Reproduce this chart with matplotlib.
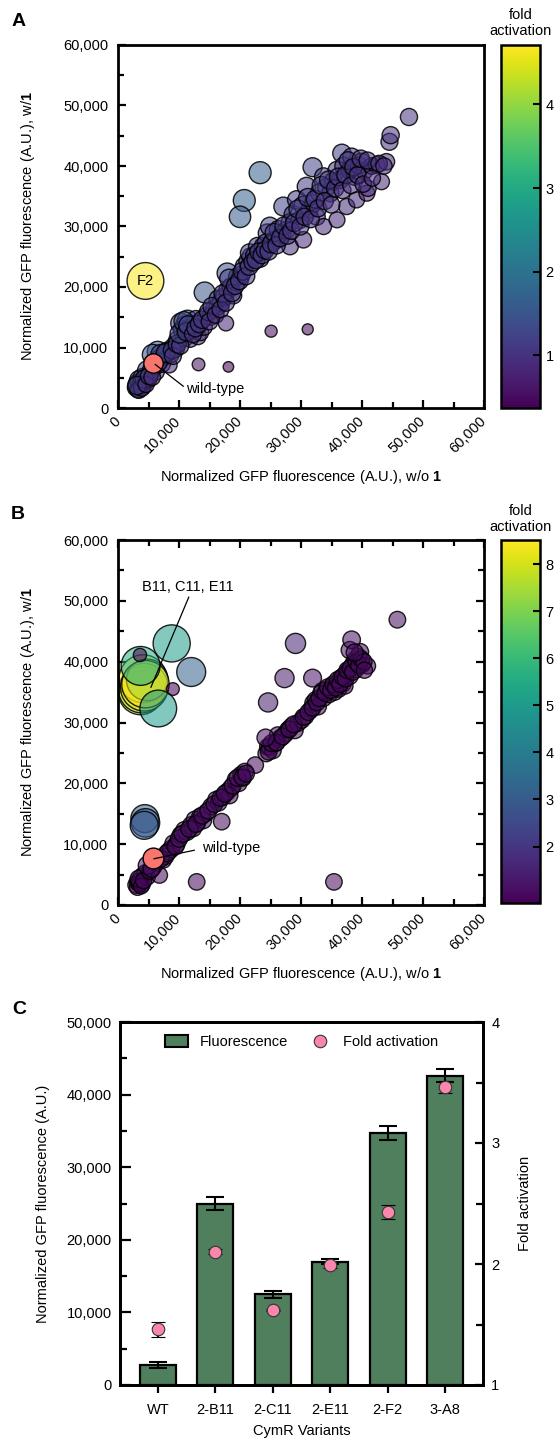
import numpy as np
import matplotlib
matplotlib.use('Agg')
import matplotlib.pyplot as plt
from matplotlib.colors import Normalize
from matplotlib.cm import ScalarMappable
from matplotlib.ticker import FuncFormatter, MultipleLocator
from matplotlib.patches import Patch
from matplotlib.lines import Line2D

plt.rcParams['font.family'] = ['Liberation Sans', 'DejaVu Sans']
plt.rcParams['mathtext.fontset'] = 'custom'
plt.rcParams['mathtext.rm'] = 'Liberation Sans'
plt.rcParams['mathtext.bf'] = 'Liberation Sans:bold'
FS = 10.5

# ---- pannello A: screening (x = senza 1, y = con 1, fold activation) ----
a_x = [3000, 3300, 3600, 3200, 3800, 4100, 3500, 4400, 4000, 4700, 5000, 5300, 4800, 5600, 6200,
       6000, 6500, 5700, 6900, 7200, 8400, 7600, 8100, 8600, 9200, 9800, 9500, 10300, 10600, 11000,
       11400, 10900, 11600, 12000, 12400, 11800, 13100, 12800, 13500, 14100, 14500, 14200, 15200,
       15800, 16300, 16900, 16400, 17400, 17900, 18000, 18500, 18900, 19500, 19600, 20200, 20700,
       21300, 21800, 21600, 22400, 22900, 23300, 23800, 24500, 24300, 24900, 25300, 25900, 26300,
       26900, 27100, 27600, 28200, 28200, 28700, 29300, 29800, 30400, 30300, 30900, 31400, 31900,
       32000, 32600, 33000, 33700, 33700, 34200, 34800, 35300, 35900, 35900, 36400, 36700, 37500,
       37000, 38000, 38300, 38800, 39100, 39500, 39900, 40400, 40800, 41000, 41600, 42400, 43200,
       44000, 44500, 44700, 47700,
       3400, 3900, 4300, 3100, 4600, 5100, 5600, 6600, 7000, 7800, 8900, 9000, 9700, 10200, 10100,
       10800, 11200, 11500, 12300, 12700, 13300, 13800, 14800, 15400, 15000, 16000, 16800, 17200,
       17700, 18200, 18700, 19200, 19900, 20400, 21000, 21500, 22100, 22600, 23100, 23600, 24100,
       24700, 25100, 25600, 26000, 26600, 27200, 27800, 28400, 28900, 29500, 29900, 30600, 31100,
       31600, 32300, 32800, 33300, 33900, 34500, 35000, 35600, 36100, 36800, 37300, 37700, 38200,
       38600, 39300, 39800, 40200, 40900, 41700, 42800, 43600]
a_y = [3400, 3100, 3700, 4000, 4200, 3600, 4600, 4400, 5000, 5200, 4700, 5800, 6200, 6500, 6000,
       7000, 9300, 8800, 8200, 7300, 7100, 8600, 9400, 8900, 10200, 11200, 9800, 14000, 12900, 13600,
       14500, 11600, 13100, 12900, 13800, 11400, 11800, 14600, 12500, 13400, 15200, 19100, 15100,
       16400, 16700, 17400, 18000, 18400, 22300, 19500, 20000, 18600, 20800, 21700, 22000, 23400,
       24200, 25000, 25600, 25200, 26700, 24700, 26700, 28900, 27300, 30000, 27500, 27800, 29500,
       28800, 33300, 29400, 30700, 26700, 32000, 34400, 31100, 27800, 33500, 36600, 32800, 39800,
       33800, 31600, 35600, 38200, 30000, 36500, 35500, 37500, 39300, 31100, 37700, 42100, 33300,
       40000, 39300, 41500, 38200, 34400, 40100, 40700, 39200, 35500, 36300, 40000, 40200, 37400,
       40700, 44000, 45100, 48100,
       3000, 3300, 4800, 3700, 3900, 5300, 5100, 7600, 8900, 9100, 9600, 8600, 10600, 10300, 12300,
       14300, 12600, 13700, 12200, 13200, 13900, 14600, 15900, 16800, 14300, 15400, 16300, 18900,
       17400, 21400, 19000, 20200, 21000, 22600, 21800, 23400, 24100, 24500, 25800, 25300, 26100,
       25900, 27100, 29000, 26900, 28100, 30100, 28500, 29300, 30600, 32900, 30000, 31600, 34800,
       31200, 34500, 33000, 36800, 34200, 37700, 33600, 36300, 38200, 36000, 38500, 40900, 36800,
       39800, 38500, 41200, 37000, 40900, 38000, 40400, 40000]
a_fold = [1.1, 1.0, 1.1, 1.2, 1.1, 0.95, 1.3, 1.0, 1.2, 1.1, 0.95, 1.1, 1.3, 1.15, 1.0,
          1.15, 1.5, 1.5, 1.2, 1.0, 0.85, 1.1, 1.15, 1.05, 1.1, 1.15, 1.0, 1.4, 1.2, 1.3,
          1.4, 1.05, 1.15, 1.1, 1.1, 0.95, 0.9, 1.15, 0.95, 0.95, 1.05, 1.5, 1.0,
          1.05, 1.0, 1.05, 1.1, 1.05, 1.4, 1.1, 1.1, 0.98, 1.08, 1.1, 1.1, 1.13,
          1.15, 1.15, 1.2, 1.12, 1.15, 1.05, 1.12, 1.17, 1.1, 1.2, 1.08, 1.07, 1.12,
          1.07, 1.23, 1.06, 1.08, 0.95, 1.1, 1.17, 1.04, 0.92, 1.1, 1.18, 1.04, 1.25,
          1.05, 0.97, 1.08, 1.13, 0.89, 1.07, 1.02, 1.06, 1.1, 0.87, 1.03, 1.15, 0.89,
          1.08, 1.03, 1.08, 0.98, 0.88, 1.02, 1.02, 0.97, 0.87, 0.89, 0.96, 0.95, 0.87,
          0.93, 0.99, 1.01, 1.01,
          1.0, 0.95, 1.15, 1.15, 0.9, 1.05, 0.95, 1.15, 1.3, 1.2, 1.1, 1.0, 1.1, 1.02, 1.25,
          1.35, 1.12, 1.2, 1.0, 1.05, 1.05, 1.06, 1.08, 1.1, 0.96, 0.97, 0.98, 1.1,
          0.99, 1.2, 1.02, 1.05, 1.06, 1.1, 1.04, 1.09, 1.09, 1.08, 1.12, 1.07, 1.08,
          1.05, 1.08, 1.13, 1.04, 1.06, 1.1, 1.03, 1.03, 1.06, 1.12, 1.0, 1.03, 1.12,
          0.99, 1.07, 1.01, 1.1, 1.01, 1.09, 0.96, 1.02, 1.06, 0.98, 1.03, 1.08, 0.96,
          1.03, 0.98, 1.04, 0.92, 1.0, 0.91, 0.94, 0.92]
# outlier del pannello A (F2, varianti chiare, punti piccoli sotto la diagonale)
a_out_x = [23300, 20700, 20000, 13200, 18100, 25100, 31100, 17700, 4500]
a_out_y = [38900, 34300, 31600, 7200, 6800, 12700, 13000, 14000, 21000]
a_out_fold = [1.67, 1.66, 1.58, 0.55, 0.38, 0.5, 0.42, 0.8, 4.67]

# ---- pannello B ----
b_x = [3000, 3300, 3600, 3200, 3900, 4000, 3500, 4500, 4800, 5800, 6300, 7400, 7800, 8300, 8700,
       9100, 9600, 10300, 10900, 11300, 12000, 12600, 12300, 13000, 13500, 14000, 14400, 15300,
       16100, 16500, 17200, 17900, 18500, 18300, 19300, 19800, 20200, 20800, 20500, 22500, 24300,
       24600, 24900, 25400, 25800, 26600, 26200, 27500, 27900, 28400, 29000, 29500, 30100, 30700,
       31600, 32000, 32400, 32800, 33300, 33700, 34200, 34600, 35100, 35500, 35900, 36200, 36500,
       36900, 37400, 37100, 37800, 38300, 38000, 38900, 38600, 39400, 40000, 39700, 38000, 40900,
       38300, 39000, 37200,
       3400, 3800, 4200, 5200, 7000, 8000, 9400, 10000, 10600, 11700, 12800, 13800, 14800, 15800,
       16800, 17500, 18800, 19600, 20400, 21000, 24700, 25200, 26000, 27000, 28100, 28800, 30400,
       31200, 31900, 32600, 33000, 33500, 34000, 34400, 34900, 35300, 35700, 36000, 36400, 36800,
       37300, 37600, 38100, 38500, 39100, 39500, 39900, 40300, 38800, 40400]
b_y = [3300, 3800, 4000, 2900, 4600, 3400, 3500, 5200, 4600, 6300, 7000, 7400, 8000, 8800, 9200,
       10100, 10000, 11500, 12300, 12000, 13100, 14000, 12600, 13500, 14500, 13900, 15100, 16200,
       17300, 16800, 17800, 18600, 19200, 18000, 20600, 20000, 21400, 21900, 20900, 23000, 24900,
       26000, 26000, 25400, 26600, 27400, 27900, 28200, 28800, 29300, 28700, 29900, 30400, 31000,
       32100, 33200, 33700, 32600, 34800, 34000, 35400, 34600, 35900, 35000, 36400, 35500, 37300,
       36400, 38100, 37700, 38500, 39200, 37600, 40300, 39700, 40800, 39500, 41600, 41900, 39300,
       43600, 38700, 36000,
       4300, 3100, 4000, 5600, 7600, 8500, 9600, 10900, 11700, 12500, 13300, 14700, 15500, 16600,
       17600, 18300, 19600, 20900, 21000, 21600, 25200, 26600, 26700, 27700, 28900, 29700, 30900,
       31700, 32400, 33300, 34000, 35200, 34800, 35800, 35300, 36300, 35700, 37000, 36300, 37500,
       37200, 38600, 38900, 38300, 39900, 39400, 40400, 40000, 41500, 38600]
b_fold = [1.05, 1.1, 1.1, 0.95, 1.1, 0.9, 1.0, 1.1, 0.95, 1.05, 1.1, 1.0, 1.0, 1.05, 1.05,
          1.1, 1.05, 1.1, 1.1, 1.05, 1.1, 1.1, 1.05, 1.05, 1.1, 1.0, 1.05, 1.05,
          1.05, 1.0, 1.05, 1.05, 1.05, 1.0, 1.05, 1.0, 1.05, 1.05, 1.0, 1.0, 1.0,
          1.05, 1.05, 1.0, 1.05, 1.05, 1.05, 1.03, 1.03, 1.03, 1.0, 1.02, 1.01, 1.01,
          1.02, 1.03, 1.04, 1.0, 1.05, 1.01, 1.03, 1.0, 1.02, 1.0, 1.01, 0.98, 1.02,
          0.99, 1.02, 1.02, 1.02, 1.02, 0.99, 1.04, 1.03, 1.04, 0.99, 1.05, 1.1, 0.96,
          1.14, 0.99, 0.97,
          1.1, 0.9, 0.98, 1.05, 1.05, 1.05, 1.02, 1.08, 1.08, 1.06, 1.04, 1.06, 1.04, 1.04,
          1.04, 1.04, 1.04, 1.06, 1.03, 1.03, 1.02, 1.05, 1.02, 1.02, 1.02, 1.03, 1.01,
          1.01, 1.01, 1.02, 1.03, 1.05, 1.02, 1.04, 1.01, 1.03, 1.0, 1.03, 1.0, 1.02,
          1.0, 1.03, 1.02, 0.99, 1.02, 1.0, 1.01, 0.99, 1.07, 0.96]
# outlier del pannello B
b_out_x = [29100, 27300, 31900, 24600, 17000, 12900, 35400, 45800, 24200, 6800, 4800, 5500,
           4400, 4500, 4300, 3700, 3900, 4100, 4300, 4800, 4500, 3700, 6600, 8800, 12000, 3600, 9000]
b_out_y = [43000, 37300, 37300, 33300, 13700, 3800, 3800, 46900, 27500, 4900, 6500, 5900,
           14200, 13500, 13100, 34900, 35400, 37200, 35800, 37000, 36300, 39300, 32300, 43000, 38300,
           41100, 35500]
b_out_fold = [1.5, 1.35, 1.17, 1.35, 1.0, 1.0, 1.0, 1.02, 1.1, 0.95, 1.2, 1.05,
              2.9, 3.0, 2.9, 7.2, 8.0, 8.5, 8.4, 6.4, 8.3, 5.6, 5.0, 5.1, 3.1, 0.65, 0.6]

wt_a = (5800, 7400)
wt_b = (5700, 7650)

# ---- pannello C ----
varianti = ['WT', '2-B11', '2-C11', '2-E11', '2-F2', '3-A8']
fluo = [2800, 25000, 12500, 17000, 34700, 42600]
fluo_err = [400, 900, 500, 400, 1000, 900]
fold_act = [1.46, 2.10, 1.62, 1.99, 2.43, 3.46]
fold_err = [0.06, 0.02, 0.01, 0.02, 0.06, 0.05]

W, H = 556, 1440
fig = plt.figure(figsize=(W / 100, H / 100), dpi=100)


def rect(x0, y0, x1, y1):
    # pixel -> frazioni di figura
    return [x0 / W, 1 - y1 / H, (x1 - x0) / W, (y1 - y0) / H]


comma = FuncFormatter(lambda v, p: f'{int(v):,}')
cmap = plt.get_cmap('viridis')
col_wt = '#f8766d'


def stile_scatter(ax, all_ticks):
    ax.set_xlim(0, 60000)
    ax.set_ylim(0, 60000)
    for a in (ax.xaxis, ax.yaxis):
        a.set_major_locator(MultipleLocator(10000))
        a.set_minor_locator(MultipleLocator(5000))
        a.set_major_formatter(comma)
    for s in ax.spines.values():
        s.set_linewidth(2)
    ax.tick_params(which='both', direction='in', width=1.6, top=all_ticks, right=all_ticks)
    ax.tick_params(which='major', length=6)
    ax.tick_params(which='minor', length=4)
    ax.tick_params(axis='y', pad=7, labelsize=FS)
    ax.tick_params(axis='x', pad=8, labelsize=FS)
    for lab in ax.get_xticklabels():
        lab.set_rotation(45)
        lab.set_ha('right')
        lab.set_va('center')
        lab.set_rotation_mode('anchor')
    ax.set_xlabel(r'Normalized GFP fluorescence (A.U.), w/o $\mathbf{1}$', fontsize=FS)
    ax.set_ylabel(r'Normalized GFP fluorescence (A.U.), w/$\mathbf{1}$', fontsize=FS)
    ax.xaxis.set_label_coords(0.5, -0.165)
    ax.yaxis.set_label_coords(-0.22, 0.5)


def disegna(ax, xs, ys, folds, norm, k):
    fc = cmap(norm(np.array(folds)))
    fc[:, 3] = 0.55
    ax.scatter(xs, ys, s=k * np.array(folds), facecolors=fc,
               edgecolors=(0, 0, 0, 0.85), linewidths=1.0, zorder=2)


def colorbar(cax, norm, ticks):
    cb = fig.colorbar(ScalarMappable(norm=norm, cmap=cmap), cax=cax)
    cb.set_ticks(ticks)
    cb.outline.set_linewidth(1.8)
    cax.tick_params(direction='in', length=5, width=1.5, labelsize=FS, pad=4)


# ---------------- A ----------------
axA = fig.add_axes(rect(118, 45, 484, 408))
normA = Normalize(0.37, 4.71, clip=True)
disegna(axA, a_x, a_y, a_fold, normA, 150)
disegna(axA, a_out_x, a_out_y, a_out_fold, normA, 150)
axA.scatter([wt_a[0]], [wt_a[1]], s=150 * 1.3, color=col_wt, edgecolors='k', linewidths=1.0, zorder=4)
axA.plot([10700, 6100], [3600, 7200], color='k', lw=0.9, zorder=5)
axA.text(11200, 3200, 'wild-type', ha='left', va='center', fontsize=FS)
axA.text(a_out_x[-1], a_out_y[-1], 'F2', ha='center', va='center', fontsize=FS, zorder=5)
stile_scatter(axA, False)
cbA = fig.add_axes(rect(501, 45, 540, 408))
colorbar(cbA, normA, [1, 2, 3, 4])
fig.text(521 / W, 1 - 23 / H, 'fold\nactivation', ha='center', va='center', fontsize=FS, linespacing=1.1)
fig.text(19 / W, 1 - 22 / H, 'A', ha='center', va='center', fontsize=14, fontweight='bold')

# ---------------- B ----------------
axB = fig.add_axes(rect(118, 540, 484, 905))
normB = Normalize(0.8, 8.51, clip=True)
disegna(axB, b_x, b_y, b_fold, normB, 140)
disegna(axB, b_out_x, b_out_y, b_out_fold, normB, 140)
axB.scatter([wt_b[0]], [wt_b[1]], s=140 * 1.6, color=col_wt, edgecolors='k', linewidths=1.0, zorder=4)
axB.plot([12500, 5900], [9000, 7600], color='k', lw=0.9, zorder=5)
axB.text(13700, 9400, 'wild-type', ha='left', va='center', fontsize=FS)
axB.plot([11600, 5400], [50600, 35800], color='k', lw=0.9, zorder=5)
axB.text(11400, 52300, 'B11, C11, E11', ha='center', va='center', fontsize=FS)
stile_scatter(axB, True)
cbB = fig.add_axes(rect(501, 540, 540, 903))
colorbar(cbB, normB, [2, 3, 4, 5, 6, 7, 8])
fig.text(521 / W, 1 - 519 / H, 'fold\nactivation', ha='center', va='center', fontsize=FS, linespacing=1.1)
fig.text(18 / W, 1 - 515 / H, 'B', ha='center', va='center', fontsize=14, fontweight='bold')

# ---------------- C ----------------
axC = fig.add_axes(rect(120, 1022, 483, 1385))
xpos = np.arange(len(varianti))
verde = '#4f7f5c'
rosa = '#f986ab'
axC.bar(xpos, fluo, width=0.63, color=verde, edgecolor='k', linewidth=1.6,
        yerr=fluo_err, capsize=6.5, error_kw=dict(elinewidth=1.5, capthick=1.5, ecolor='k'))
axC.set_xlim(-0.66, 5.66)
axC.set_ylim(0, 50000)
axC.yaxis.set_major_locator(MultipleLocator(10000))
axC.yaxis.set_minor_locator(MultipleLocator(5000))
axC.yaxis.set_major_formatter(comma)
axC.set_xticks(xpos)
axC.set_xticklabels(varianti)
axC.tick_params(axis='x', direction='out', length=6, width=1.6, pad=7, labelsize=FS)
axC.tick_params(axis='y', which='both', direction='in', width=1.6, pad=6, labelsize=FS)
axC.tick_params(axis='y', which='major', length=8)
axC.tick_params(axis='y', which='minor', length=5)
for s in axC.spines.values():
    s.set_linewidth(2)
axC.set_ylabel('Normalized GFP fluorescence (A.U.)', fontsize=FS)
axC.yaxis.set_label_coords(-0.194, 0.5)
axC.set_xlabel('CymR Variants', fontsize=FS)
axC.xaxis.set_label_coords(0.5, -0.107)

axC2 = axC.twinx()
axC2.errorbar(xpos, fold_act, yerr=fold_err, fmt='o', color=rosa, markersize=9,
              markeredgecolor='#333333', markeredgewidth=0.8, ecolor='k',
              elinewidth=1.5, capsize=5, capthick=1.5, zorder=5)
axC2.set_ylim(1, 4)
axC2.yaxis.set_major_locator(MultipleLocator(1))
axC2.yaxis.set_minor_locator(MultipleLocator(0.5))
axC2.tick_params(axis='y', which='both', direction='in', width=1.6, pad=6, labelsize=FS)
axC2.tick_params(axis='y', which='major', length=6)
axC2.tick_params(axis='y', which='minor', length=5)
for s in axC2.spines.values():
    s.set_linewidth(2)
axC2.set_ylabel('Fold activation', fontsize=FS)
axC2.yaxis.set_label_coords(1.096, 0.5)

handles = [Patch(facecolor=verde, edgecolor='k', linewidth=1.5),
           Line2D([], [], marker='o', ls='', color=rosa, markersize=9,
                  markeredgecolor='#333333', markeredgewidth=0.8)]
axC2.legend(handles, ['Fluorescence', 'Fold activation'], loc='upper center',
            bbox_to_anchor=(0.5, 1.0), ncol=2, frameon=False, fontsize=FS,
            handlelength=1.6, handleheight=0.8, columnspacing=1.4, handletextpad=0.8)
fig.text(19 / W, 1 - 1009 / H, 'C', ha='center', va='center', fontsize=14, fontweight='bold')

fig.savefig('out.png', dpi=100)
